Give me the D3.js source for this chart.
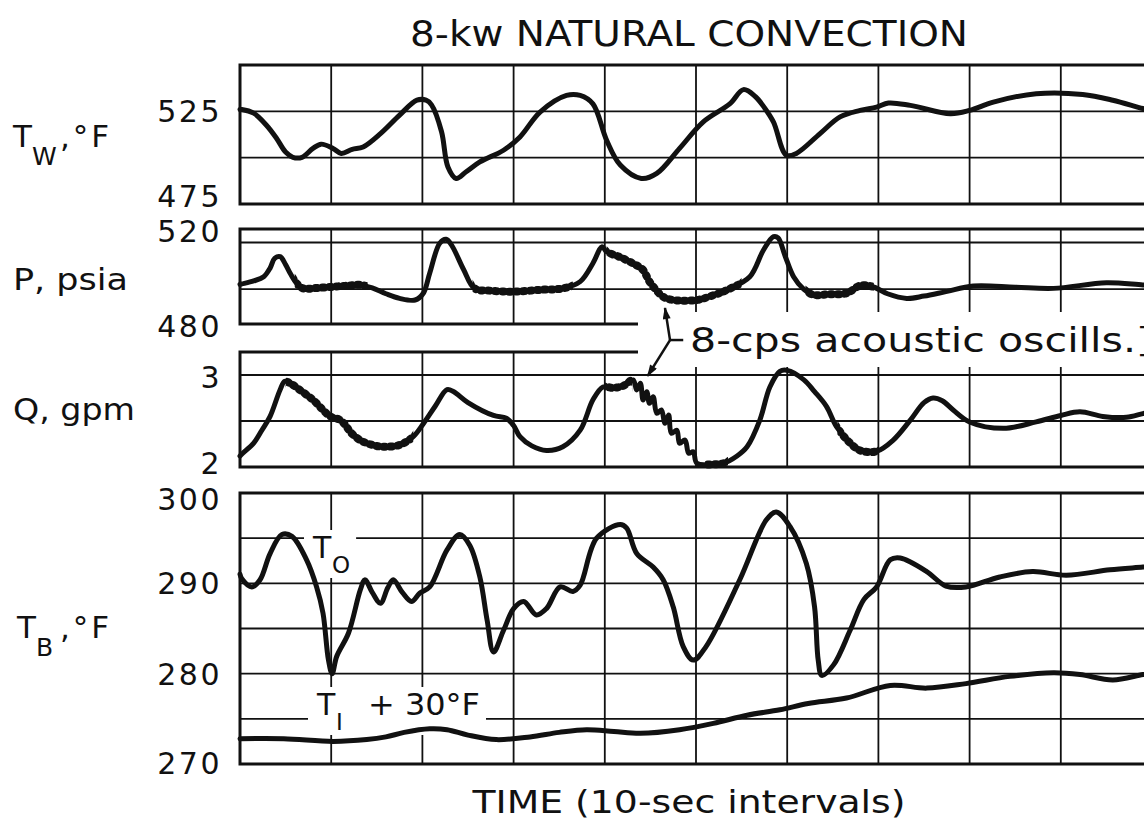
<!DOCTYPE html>
<html>
<head>
<meta charset="utf-8">
<script src="https://cdnjs.cloudflare.com/ajax/libs/d3/7.8.5/d3.min.js"></script>
<style>
  body { margin: 0; background: #fff; }
  svg { display: block; }
  text { font-family: "DejaVu Sans", sans-serif; fill: #111; }
</style>
</head>
<body>
<div id="chart"></div>
<script>
// time axis: seconds, gridlines every 10 sec
var timeGrid = [10, 20, 30, 40, 50, 60, 70, 80, 90, 100];

// wall temperature Tw (F) - [sec, value]
var twData = [[0,526],[0.2,526],[1.5,524],[2.9,517.5],[4.0,510.5],[5.0,503],[5.8,500.2],[6.8,500.2],[8.0,505],[8.9,507.3],
  [10.2,505],[11.1,502.3],[12.3,504.5],[13.5,505.8],[15.4,513],[17.5,523],[19.4,531],[20.4,531],[21.0,528.5],[22.1,514],
  [22.8,495],[23.7,488.8],[24.8,492.4],[26.3,497.7],[28.9,504],[30.7,511.2],[32.9,524.6],[35.8,533.6],[37.3,533.6],[38.7,529],
  [40.2,509.4],[41.7,496],[44.0,488.8],[45.7,491.5],[48.2,505],[50.8,519.3],[53.7,529],[55.2,536.7],[56.5,533],[57.5,527],
  [58.5,519.2],[59.9,501.3],[61.0,502.3],[63.6,513],[65.8,522],[68.0,525.5],[69.8,527.3],[71.1,529.5],[73.5,528.2],[77.9,523.7],
  [80.0,525.5],[82.6,530],[87.3,534.5],[92.4,534.1],[95.7,531],[99,526.5],[100,525.5]];
var twTicks = [475, 525];
var twGrid = [500, 525];

// pressure P (psia)
var pData = [[0,497],[0.2,497.2],[1.5,498.5],[2.6,500.3],[3.3,504],[3.8,508.2],[4.4,508.9],[5.0,505.5],[5.5,501.8],[6.2,497.5],
  [6.9,495.3],[8.5,495.5],[10.2,496],[12.0,496.5],[13.2,496.8],[14.5,495.5],[16.0,493],[17.5,491],[19.2,490.3],[20.1,493.2],
  [20.8,501.8],[21.9,514.7],[22.6,516.4],[23.2,513.9],[24.5,503.5],[25.7,495.3],[27.5,494.3],[30.0,493.9],[33,494.7],[35.4,495.3],
  [37.3,498.2],[38.7,506.1],[39.7,513.2],[40.2,511],[41.5,509],[43.1,506],[44.2,503.2],[44.9,498.2],[46.4,491.7],[47.5,490.3],
  [50.1,490.3],[52,492.5],[53.4,494.6],[55.9,500.3],[57.4,511.8],[58.5,517.5],[59.0,517],[59.8,508.9],[60.7,500.3],[61.8,495],
  [62.9,492.5],[64.5,492.8],[66.5,493.2],[68,496.5],[69.4,496],[71,493],[73.1,491],[75,492],[77.4,493.9],[80.4,496.3],
  [85,495.8],[89.2,495.3],[95,497.7],[99,496.8],[100,496.8]];
var pTicks = [480, 520];
var pGrid = [495, 515];
var pRipples = [[6, 14], [25.5, 36.5], [40.2, 55], [62, 69.5]];

// flow Q (gpm)
var qData = [[0,2.12],[0.3,2.15],[1.5,2.26],[2.4,2.4],[3.3,2.55],[4.4,2.84],[4.9,2.93],[5.5,2.91],[6.8,2.82],[8.0,2.73],
  [9.9,2.55],[11.0,2.51],[11.6,2.45],[12.1,2.38],[13.2,2.29],[14.5,2.24],[15.7,2.22],[17.5,2.24],[19,2.33],[20.1,2.47],
  [21.4,2.66],[22.7,2.84],[23.4,2.82],[25,2.7],[27.8,2.56],[29.2,2.53],[30,2.45],[30.7,2.33],[32,2.23],[33.6,2.18],
  [35.4,2.22],[37.3,2.40],[38.7,2.73],[39.8,2.87],[40.9,2.86],[42,2.88],[43.1,2.946],[43.5,2.837],[43.9,2.91],[44.2,2.728],
  [44.6,2.818],[44.9,2.692],[45.3,2.764],[45.7,2.584],[46.2,2.62],[46.6,2.475],[47.0,2.565],[47.3,2.366],[47.9,2.40],[48.2,2.258],
  [48.8,2.293],[49.2,2.149],[49.7,2.166],[50.1,2.04],[51.9,2.03],[53,2.04],[54.5,2.12],[55.6,2.22],[57,2.51],[58.1,2.87],
  [59.2,3.04],[60,3.05],[61.8,2.95],[63,2.82],[64.3,2.66],[65.4,2.44],[66.9,2.26],[68,2.18],[69.8,2.17],[71.6,2.29],
  [73.5,2.51],[75,2.7],[76,2.75],[77,2.72],[78.2,2.62],[80,2.49],[83.7,2.42],[87.3,2.49],[90,2.56],[92.1,2.6],
  [94.6,2.55],[97.2,2.54],[99,2.58],[100,2.6]];
var qTicks = [2, 3];
var qGrid = [2.5, 3];
var qRipples = [[5, 19], [40, 43], [51, 53.5], [65.5, 70]];

// bulk temperatures TB (F): outlet To and inlet Ti + 30F
var toData = [[0,291],[0.2,290.5],[1.3,289.6],[2.2,290.4],[3.3,293.3],[4.6,295.4],[5.7,295.2],[7.3,292.6],[8.4,289.6],[9.1,286.7],
  [9.7,281.5],[10.1,280],[10.6,281.9],[11.9,284.5],[13.2,289.3],[13.7,290.4],[14.5,289],[15.4,287.8],[16.2,289.5],[16.8,290.4],
  [17.8,289],[18.8,288],[19.7,288.9],[20.8,289.6],[22.7,293.7],[24.1,295.4],[25.2,294.2],[26.3,290.7],[27.1,285.9],[27.8,282.4],
  [28.9,284.8],[30,287.2],[31.1,288],[32.5,286.5],[33.6,287.2],[35.1,289.6],[36.5,289.1],[37.3,289.8],[39.1,295],[41.7,296.5],
  [42.4,296.1],[43.5,293.3],[45.3,291.8],[46.4,290.4],[47.5,287.4],[48.6,283],[49.7,281.5],[51.1,283],[54.8,290.4],[57.7,297],
  [58.8,297.9],[60.3,296.3],[62.1,292.2],[63,287.4],[63.4,281.5],[63.8,279.8],[65.1,281],[66.9,284.8],[68.4,288.2],[69.8,289.6],
  [71.3,292.6],[72.4,292.8],[75.3,291.3],[77.4,289.7],[79.6,289.6],[83.3,290.7],[86.9,291.3],[90.6,290.9],[95.4,291.5],[99,291.8],[100,291.9]];
var tiData = [[0,272.8],[4.8,272.8],[10.2,272.5],[13.9,272.7],[16,273],[18,273.5],[20.8,273.9],[22.7,273.8],[25,273.2],[28.1,272.7],
  [31.8,273],[35,273.5],[38,273.8],[41,273.6],[43.9,273.4],[48.2,273.8],[51.9,274.5],[55.6,275.4],[59.2,276],[62.3,276.7],
  [66.5,277.3],[71.3,278.7],[75.3,278.4],[79.6,278.9],[84.4,279.7],[89.2,280.1],[92.1,279.9],[95.7,279.3],[99,279.9],[100,280]];
var tbTicks = [270, 280, 290, 300];
var tbGrid = [275, 280, 285, 290, 295];

var W = 1144, H = 823;
var svg = d3.select("#chart").append("svg").attr("width", W).attr("height", H);

var x = d3.scaleLinear().domain([0, 100]).range([240, 1152]);
var ink = "#111";

var line = function(y) {
  return d3.line().x(function(d) { return x(d[0]); }).y(function(d) { return y(d[1]); })
    .curve(d3.curveCatmullRom.alpha(0.5));
};

var gridLayer = svg.append("g");
var maskLayer = svg.append("g");
var curveLayer = svg.append("g");
var textLayer = svg.append("g");

// tick label nudges: lowest label of a small panel sits up, the top of TB sits down
function panel(domain, top, bottom, grid, ticks, lowDy, highDy) {
  var y = d3.scaleLinear().domain(domain).range([bottom, top]);
  var g = gridLayer.append("g");
  g.selectAll(null).data(grid).join("line")
    .attr("x1", x(0)).attr("x2", x(100))
    .attr("y1", function(d) { return y(d); }).attr("y2", function(d) { return y(d); })
    .attr("stroke", ink).attr("stroke-width", 1.8);
  g.selectAll(null).data(timeGrid).join("line")
    .attr("x1", function(d) { return x(d); }).attr("x2", function(d) { return x(d); })
    .attr("y1", top).attr("y2", bottom)
    .attr("stroke", ink).attr("stroke-width", 1.8);
  // frame: left, top, bottom
  g.append("path")
    .attr("d", "M" + x(100) + "," + top + "H" + x(0) + "V" + bottom + "H" + x(100))
    .attr("fill", "none").attr("stroke", ink).attr("stroke-width", 3);
  var ax = textLayer.append("g").attr("transform", "translate(" + x(0) + ",0)")
    .call(d3.axisLeft(y).tickValues(ticks).tickSize(0).tickPadding(18).tickFormat(d3.format("d")));
  ax.select(".domain").remove();
  ax.selectAll("text").attr("font-size", 30).attr("letter-spacing", 2.5)
    .style("font-family", "'DejaVu Sans', sans-serif").attr("fill", ink)
    .attr("dy", function(d) {
      if (d === ticks[0] && lowDy != null) return lowDy;
      if (d === ticks[ticks.length - 1] && highDy != null) return highDy;
      return "0.35em";
    });
  return y;
}

var yTw = panel([475, 550], 65, 204, twGrid, twTicks, "0.08em");
var yP = panel([480, 520.8], 229, 324, pGrid, pTicks, "0.4em", "0.36em");
var yQ = panel([2, 3.25], 352, 467, qGrid, qTicks, "0.2em", "0.42em");
var yTb = panel([270, 300], 493, 764, tbGrid, tbTicks, "0.3em", "0.55em");

// gap in the P / Q frames for the annotation
maskLayer.append("rect").attr("x", 638).attr("y", 312).attr("width", 520).attr("height", 55).attr("fill", "#fff");

function curve(data, y, ripples) {
  curveLayer.append("path").datum(data)
    .attr("d", line(y))
    .attr("fill", "none").attr("stroke", ink).attr("stroke-width", 5)
    .attr("stroke-linejoin", "round").attr("stroke-linecap", "round");
  (ripples || []).forEach(function(r, i) {
    var id = "rip" + Math.random().toString(36).slice(2);
    svg.append("clipPath").attr("id", id).append("rect")
      .attr("x", x(r[0])).attr("width", x(r[1]) - x(r[0])).attr("y", 0).attr("height", H);
    curveLayer.append("path").datum(data)
      .attr("d", line(y)).attr("clip-path", "url(#" + id + ")")
      .attr("fill", "none").attr("stroke", ink).attr("stroke-width", 8)
      .attr("stroke-dasharray", "1.5 5.5").attr("stroke-linecap", "round");
  });
}

curve(twData, yTw);
curve(pData, yP, pRipples);
curve(qData, yQ, qRipples);
curve(toData, yTb);
curve(tiData, yTb);

// titles
textLayer.append("text").attr("x", 689).attr("y", 46).attr("text-anchor", "middle")
  .attr("font-size", 36).attr("textLength", 558).attr("lengthAdjust", "spacingAndGlyphs")
  .text("8-kw NATURAL CONVECTION");
textLayer.append("text").attr("x", 689).attr("y", 813).attr("text-anchor", "middle")
  .attr("font-size", 32).attr("textLength", 433).attr("lengthAdjust", "spacingAndGlyphs")
  .text("TIME (10-sec intervals)");

// y labels
function subLabel(x0, base, main, sub, rest, restX) {
  var t = textLayer.append("g");
  t.append("text").attr("x", x0).attr("y", base).attr("font-size", 31).text(main);
  t.append("text").attr("x", x0 + 19).attr("y", base + 18).attr("font-size", 25).text(sub);
  if (rest) t.append("text").attr("x", restX).attr("y", base).attr("font-size", 31).attr("letter-spacing", 3).text(rest);
  return t;
}
subLabel(13, 147, "T", "W", ",°F", 60);
subLabel(17, 638, "T", "B", ",°F", 60);
textLayer.append("text").attr("x", 13).attr("y", 290).attr("font-size", 31)
  .attr("textLength", 115).attr("lengthAdjust", "spacingAndGlyphs").text("P, psia");
textLayer.append("text").attr("x", 13).attr("y", 420).attr("font-size", 31)
  .attr("textLength", 122).attr("lengthAdjust", "spacingAndGlyphs").text("Q, gpm");

// curve labels; a white backing under the curves breaks the grid
function curveLabel(x0, base, sub, rest, restLen) {
  var g = textLayer.append("g");
  g.append("text").attr("x", x0).attr("y", base).attr("font-size", 30).text("T");
  g.append("text").attr("x", x0 + 19).attr("y", base + 15).attr("font-size", 23).text(sub);
  if (rest) g.append("text").attr("x", x0 + 51).attr("y", base).attr("font-size", 30)
    .attr("textLength", restLen).attr("lengthAdjust", "spacingAndGlyphs").text(rest);
  var b = g.node().getBBox();
  maskLayer.append("rect").attr("fill", "#fff")
    .attr("x", b.x - 8).attr("y", b.y).attr("width", b.width + 14).attr("height", b.height);
}
curveLabel(313, 558, "O");
curveLabel(317, 715, "I", "+ 30°F", 112);

// acoustic oscillation annotation
var defs = svg.append("defs");
defs.append("marker").attr("id", "head").attr("viewBox", "0 0 12 8").attr("refX", 11).attr("refY", 4)
  .attr("markerWidth", 14).attr("markerHeight", 8).attr("markerUnits", "userSpaceOnUse").attr("orient", "auto")
  .append("path").attr("d", "M0,0L12,4L0,8Z").attr("fill", ink);
var jx = x(47.15), jy = yQ(3.38);
var ann = textLayer.append("g").attr("stroke", ink).attr("stroke-width", 2.5).attr("fill", "none");
ann.append("line").attr("x1", jx).attr("y1", jy).attr("x2", x(46.6)).attr("y2", yP(486.9)).attr("marker-end", "url(#head)");
ann.append("line").attr("x1", jx).attr("y1", jy).attr("x2", x(44.7)).attr("y2", yQ(2.99)).attr("marker-end", "url(#head)");
ann.append("line").attr("x1", jx).attr("y1", jy).attr("x2", x(48.6)).attr("y2", jy);
textLayer.append("text").attr("x", 690).attr("y", 352).attr("font-size", 33)
  .attr("textLength", 462).attr("lengthAdjust", "spacingAndGlyphs")
  .text("8-cps acoustic oscills.]");
</script>
</body>
</html>
